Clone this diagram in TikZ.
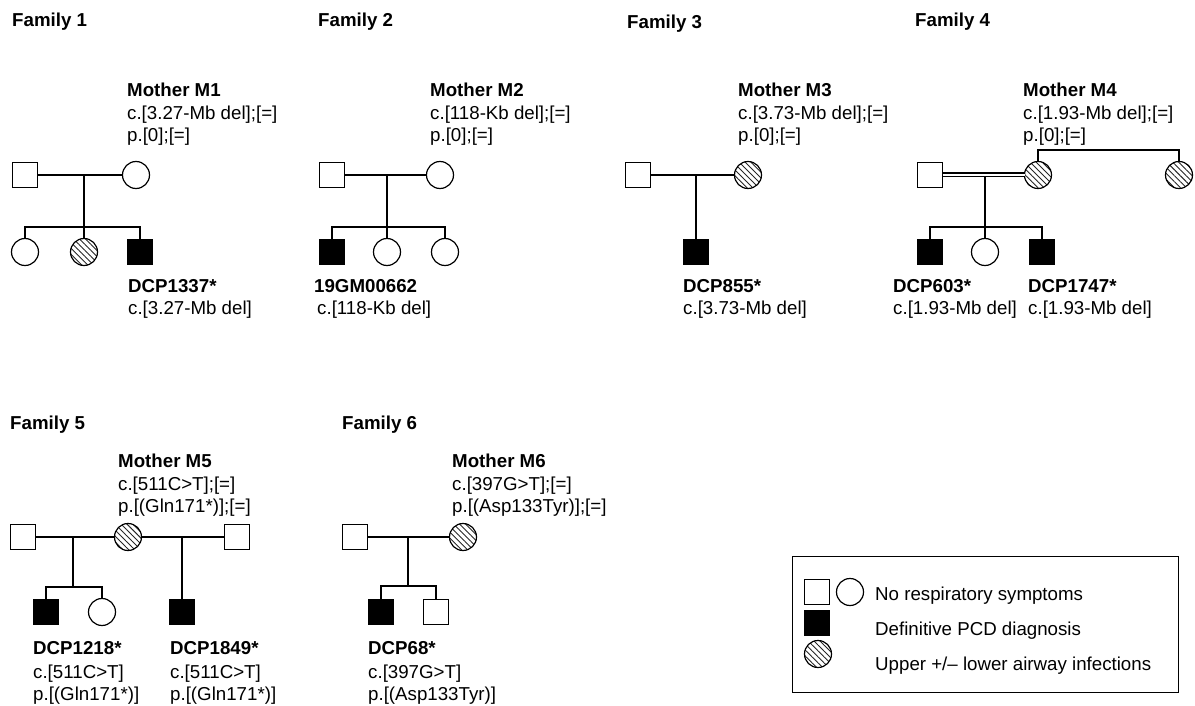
\documentclass[tikz,border=0pt]{standalone}
\usepackage{fontspec}
\setmainfont{Liberation Sans}
\usetikzlibrary{patterns.meta}
\tikzset{
 base/.style={draw=black, line width=1.2pt, inner sep=0pt, outer sep=0pt},
 sqr/.style={base, rectangle, minimum size=25pt, fill=white},
 crc/.style={base, circle, minimum size=27pt, fill=white},
 affected/.style={base, rectangle, minimum size=25pt, fill=black},
 hatched/.style={base, circle, minimum size=27pt, pattern={Lines[angle=-45,distance=4.2pt,line width=0.9pt]}, pattern color=black!85},
 txt/.style={anchor=base west, inner sep=0pt, font=\fontsize{18.7}{22}\selectfont},
 btxt/.style={anchor=base west, inner sep=0pt, font=\fontsize{18.7}{22}\selectfont\bfseries},
 ln/.style={line width=1.2pt},
}
\begin{document}
\begin{tikzpicture}[x=1pt,y=-1pt]
\useasboundingbox (0,0) rectangle (1195,706);
% ---------- titles
\node[btxt] (t1) at (12,27) {Family 1};
\node[btxt] (t2) at (318,27) {Family 2};
\node[btxt] (t3) at (627,29) {Family 3};
\node[btxt] (t4) at (915,27) {Family 4};
\node[btxt] (t5) at (10,429) {Family 5};
\node[btxt] (t6) at (342,429) {Family 6};

% ---------- Family 1
\node[btxt] (m1a) at (127,97) {Mother M1};
\node[txt] (m1b) at (127,120) {c.[3.27-Mb del];[=]};
\node[txt] (m1c) at (127,142) {p.[0];[=]};
\node[sqr] (f1f) at (25,175) {};
\node[crc] (f1m) at (136,175) {};
\node[crc] (c11) at (25,252) {};
\node[hatched] (c12) at (84,252) {};
\node[affected] (c13) at (140,252) {};
\coordinate (p1) at (84,175);
\coordinate (s1) at (84,227);
\draw[ln] (f1f) -- (f1m);
\draw[ln] (p1) -- (s1);
\draw[ln] (c11.north) |- (s1) -| (c13.north);
\draw[ln] (s1) -- (c12.north);
\node[btxt] (l1a) at (128,292) {DCP1337*};
\node[txt] (l1b) at (128,314) {c.[3.27-Mb del]};

% ---------- Family 2
\node[btxt] (m2a) at (430,97) {Mother M2};
\node[txt] (m2b) at (430,120) {c.[118-Kb del];[=]};
\node[txt] (m2c) at (430,142) {p.[0];[=]};
\node[sqr] (f2f) at (332,175) {};
\node[crc] (f2m) at (440,175) {};
\node[affected] (c21) at (332,252) {};
\node[crc] (c22) at (387,252) {};
\node[crc] (c23) at (445,252) {};
\coordinate (p2) at (387,175);
\coordinate (s2) at (387,227);
\draw[ln] (f2f) -- (f2m);
\draw[ln] (p2) -- (s2);
\draw[ln] (c21.north) |- (s2) -| (c23.north);
\draw[ln] (s2) -- (c22.north);
\node[btxt] (l2a) at (314,292) {19GM00662};
\node[txt] (l2b) at (317,314) {c.[118-Kb del]};

% ---------- Family 3
\node[btxt] (m3a) at (738,97) {Mother M3};
\node[txt] (m3b) at (738,120) {c.[3.73-Mb del];[=]};
\node[txt] (m3c) at (738,142) {p.[0];[=]};
\node[sqr] (f3f) at (638,175) {};
\node[hatched] (f3m) at (748,175) {};
\node[affected] (c31) at (696,252) {};
\coordinate (p3) at (696,175);
\draw[ln] (f3f) -- (f3m);
\draw[ln] (p3) -- (c31.north);
\node[btxt] (l3a) at (683,292) {DCP855*};
\node[txt] (l3b) at (683,314) {c.[3.73-Mb del]};

% ---------- Family 4
\node[btxt] (m4a) at (1023,97) {Mother M4};
\node[txt] (m4b) at (1023,120) {c.[1.93-Mb del];[=]};
\node[txt] (m4c) at (1023,142) {p.[0];[=]};
\node[sqr] (f4f) at (930,175) {};
\node[hatched] (f4m) at (1038,175) {};
\node[hatched] (f4a) at (1179,175) {};
\node[affected] (c41) at (930,252) {};
\node[crc] (c42) at (985,252) {};
\node[affected] (c43) at (1042,252) {};
\coordinate (p4) at (985,177);
\coordinate (s4) at (985,227);
\coordinate (s4b) at (1100,150);
\draw[line width=1.2pt, double, double distance=2.6pt] (f4f) -- (f4m);
\draw[ln] (p4) -- (s4);
\draw[ln] (c41.north) |- (s4) -| (c43.north);
\draw[ln] (s4) -- (c42.north);
\draw[ln] (f4m.north) |- (s4b) -| (f4a.north);
\node[btxt] (l4a) at (893,292) {DCP603*};
\node[txt] (l4b) at (893,314) {c.[1.93-Mb del]};
\node[btxt] (l4c) at (1028,292) {DCP1747*};
\node[txt] (l4d) at (1028,314) {c.[1.93-Mb del]};

% ---------- Family 5
\node[btxt] (m5a) at (118,467) {Mother M5};
\node[txt] (m5b) at (118,490) {c.[511C>T];[=]};
\node[txt] (m5c) at (118,512) {p.[(Gln171*)];[=]};
\node[sqr] (f5f) at (23,537) {};
\node[hatched] (f5m) at (128,537) {};
\node[sqr] (f5g) at (237,537) {};
\node[affected] (c51) at (46,612) {};
\node[crc] (c52) at (102,612) {};
\node[affected] (c53) at (182,612) {};
\coordinate (p5) at (73,537);
\coordinate (s5) at (73,587);
\coordinate (p5b) at (182,537);
\draw[ln] (f5f) -- (f5m);
\draw[ln] (f5m) -- (f5g);
\draw[ln] (p5) -- (s5);
\draw[ln] (c51.north) |- (s5) -| (c52.north);
\draw[ln] (p5b) -- (c53.north);
\node[btxt] (l5a) at (33,654) {DCP1218*};
\node[txt] (l5b) at (33,678) {c.[511C>T]};
\node[txt] (l5c) at (33,700) {p.[(Gln171*)]};
\node[btxt] (l5d) at (170,654) {DCP1849*};
\node[txt] (l5e) at (170,678) {c.[511C>T]};
\node[txt] (l5f) at (170,700) {p.[(Gln171*)]};

% ---------- Family 6
\node[btxt] (m6a) at (452,467) {Mother M6};
\node[txt] (m6b) at (452,490) {c.[397G>T];[=]};
\node[txt] (m6c) at (452,512) {p.[(Asp133Tyr)];[=]};
\node[sqr] (f6f) at (355,537) {};
\node[hatched] (f6m) at (463,537) {};
\node[affected] (c61) at (381,612) {};
\node[sqr] (c62) at (436,612) {};
\coordinate (p6) at (408,537);
\coordinate (s6) at (408,586);
\draw[ln] (f6f) -- (f6m);
\draw[ln] (p6) -- (s6);
\draw[ln] (c61.north) |- (s6) -| (c62.north);
\node[btxt] (l6a) at (368,654) {DCP68*};
\node[txt] (l6b) at (368,678) {c.[397G>T]};
\node[txt] (l6c) at (368,700) {p.[(Asp133Tyr)]};

% ---------- Legend
\draw[line width=1pt] (792,556) rectangle (1178,692);
\node[sqr] (k1) at (817,592) {};
\node[crc] (k2) at (850,592) {};
\node[affected] (k3) at (817,623) {};
\node[hatched] (k4) at (818,654) {};
\node[txt] (k5) at (875,600) {No respiratory symptoms};
\node[txt] (k6) at (875,635) {Definitive PCD diagnosis};
\node[txt] (k7) at (875,670) {Upper +/– lower airway infections};
\end{tikzpicture}
\end{document}
